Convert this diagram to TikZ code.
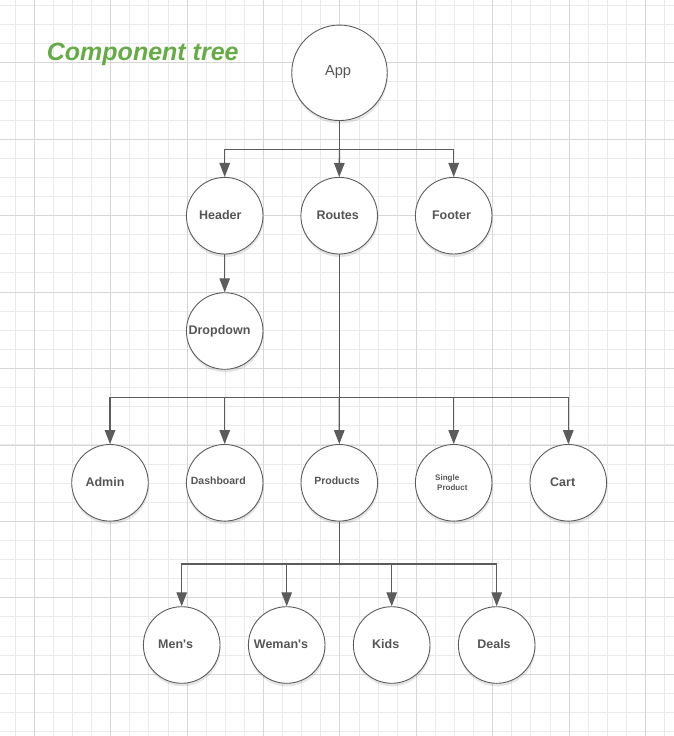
\documentclass[tikz,border=0pt]{standalone}
\usepackage{fontspec}
\setmainfont{Liberation Sans}
\usetikzlibrary{arrows.meta,shadows}
\definecolor{gridminor}{RGB}{234,234,234}
\definecolor{gridmajor}{RGB}{214,214,214}
\definecolor{linegray}{RGB}{92,92,92}
\definecolor{txtgray}{RGB}{85,85,85}
\definecolor{titlegreen}{RGB}{103,171,70}
\tikzset{
  circ/.style={circle, draw=linegray, line width=0.9pt, fill=white, inner sep=0pt,
    minimum size=76.6pt,
    drop shadow={shadow xshift=0.5pt, shadow yshift=-3pt, opacity=0.10, fill=black}},
  bigcirc/.style={circ, minimum size=95.5pt},
  lbl/.style={text=txtgray, font=\bfseries\fontsize{12.5}{14}\selectfont, inner sep=0pt},
  smalllbl/.style={lbl, font=\bfseries\fontsize{10.5}{12}\selectfont},
  tinylbl/.style={lbl, font=\bfseries\fontsize{8}{9.5}\selectfont, align=left},
  conn/.style={draw=linegray, line width=1.3pt, line join=miter},
  arr/.style={conn, -{Triangle[length=14pt,width=10.5pt]}},
}
\begin{document}
\begin{tikzpicture}[x=1pt,y=-1pt]
\useasboundingbox (0,0) rectangle (674,736);
\fill[white] (0,0) rectangle (674,736);
% grid
\foreach \k in {-1,...,33} {
  \pgfmathsetmacro\xx{34.3+19.1*\k}
  \draw[gridminor, line width=0.9pt] (\xx,0) -- (\xx,736);
}
\foreach \k in {-3,...,35} {
  \pgfmathsetmacro\yy{62.7+19.11*\k}
  \draw[gridminor, line width=0.9pt] (0,\yy) -- (674,\yy);
}
\foreach \k in {0,...,8} {
  \pgfmathsetmacro\xx{34.3+76.4*\k}
  \draw[gridmajor, line width=0.9pt] (\xx,0) -- (\xx,736);
  \pgfmathsetmacro\yy{62.7+76.45*\k}
  \draw[gridmajor, line width=0.9pt] (0,\yy) -- (674,\yy);
}
% title
\node[anchor=base west, inner sep=0pt, text=titlegreen,
  font=\bfseries\itshape\fontsize{25}{30}\selectfont] (title) at (46.7,60) {Component tree};
% circles
\node[bigcirc] (app) at (339.5,72.8) {};
\node[circ] (header) at (224.7,215.7) {};
\node[circ] (routes) at (339.2,215.7) {};
\node[circ] (footer) at (453.7,215.7) {};
\node[circ] (dropdown) at (224.7,331) {};
\node[circ] (admin) at (110,482.8) {};
\node[circ] (dashboard) at (224.7,482.8) {};
\node[circ] (products) at (339.3,482.8) {};
\node[circ] (single) at (453.7,482.8) {};
\node[circ] (cart) at (568.3,482.8) {};
\node[circ] (mens) at (181.7,645) {};
\node[circ] (womens) at (286.7,645) {};
\node[circ] (kids) at (391.7,645) {};
\node[circ] (deals) at (496.7,645) {};
% labels
\node[lbl, font=\fontsize{14.6}{17}\selectfont] (app-t) at (338,72.3) {App};
\node[lbl] (header-t) at (220.3,215) {Header};
\node[lbl] (routes-t) at (337.7,215) {Routes};
\node[lbl] (footer-t) at (451.5,215) {Footer};
\node[lbl] (dropdown-t) at (219.5,331) {Dropdown};
\node[lbl] (admin-t) at (105,481.7) {Admin};
\node[smalllbl] (dashboard-t) at (218.3,480.7) {Dashboard};
\node[smalllbl] (products-t) at (337,480.7) {Products};
\node[tinylbl, anchor=west] (single-t) at (435,482.5) {Single\\\hspace*{2pt}Product};
\node[lbl] (cart-t) at (562.7,481.7) {Cart};
\node[lbl] (mens-t) at (175.7,644) {Men\textquotesingle s};
\node[lbl] (womens-t) at (281,644) {Weman\textquotesingle s};
\node[lbl] (kids-t) at (385.7,644) {Kids};
\node[lbl] (deals-t) at (494,644) {Deals};
% connectors
\coordinate (j1) at (339.5,149.3);
\draw[conn] (app.south) -- (j1);
\draw[arr] (j1) -| (header.north);
\draw[arr] (j1) -- (routes.north);
\draw[arr] (j1) -| (footer.north);
\draw[arr] (header.south) -- (dropdown.north);
\coordinate (j2) at (339.2,397.3);
\draw[conn] (routes.south) -- (j2);
\draw[arr] (j2) -| (admin.north);
\draw[arr] (j2) -| (dashboard.north);
\draw[arr] (j2) -- (products.north);
\draw[arr] (j2) -| (single.north);
\draw[arr] (j2) -| (cart.north);
\coordinate (j3) at (339.3,564);
\draw[conn] (products.south) -- (j3);
\draw[arr] (j3) -| (mens.north);
\draw[arr] (j3) -| (womens.north);
\draw[arr] (j3) -| (kids.north);
\draw[arr] (j3) -| (deals.north);
\end{tikzpicture}
\end{document}
